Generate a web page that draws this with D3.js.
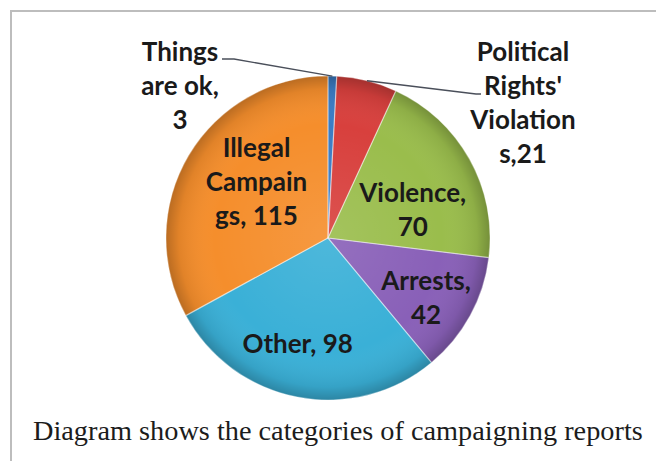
<!DOCTYPE html>
<html>
<head>
<meta charset="utf-8">
<script src="https://cdn.jsdelivr.net/npm/d3@7"></script>
<style>
  html, body { margin: 0; padding: 0; background: #fff; }
  svg { display: block; }
</style>
</head>
<body>
<svg id="chart" width="656" height="461"></svg>
<script>
// Campaigning report categories, clockwise from 12 o'clock
const categories = ["Things are ok", "Political Rights' Violations", "Violence", "Arrests", "Other", "Illegal Campaigns"];
const values = [3, 21, 70, 42, 98, 115];
// Label text as printed, split over lines
const labelLines = [
  ["Things", "are ok,", "3"],
  ["Political", "Rights'", "Violation", "s,21"],
  ["Violence,", "70"],
  ["Arrests,", "42"],
  ["Other, 98"],
  ["Illegal", "Campain", "gs, 115"]
];
const sliceColors = ["#3B7CC4", "#D8403D", "#9ABD4C", "#8960B8", "#3AB0D7", "#F58E2C"];
const caption = "Diagram shows the categories of campaigning reports";

const W = 656, H = 461;
const cx = 328, cy = 238, R = 162;
const svg = d3.select("#chart");

// frame lines (top and left)
svg.append("path")
  .attr("d", `M11,${H} V11 H${W}`)
  .attr("fill", "none").attr("stroke", "#bdbdbd").attr("stroke-width", 2);

const data = categories.map((c, i) => ({ name: c, value: values[i], lines: labelLines[i], color: sliceColors[i] }));
const pie = d3.pie().value(d => d.value).sort(null).startAngle(0).endAngle(2 * Math.PI);
const arcs = pie(data);
const arc = d3.arc().innerRadius(0).outerRadius(R);

const defs = svg.append("defs");
const shade = defs.append("radialGradient").attr("id", "shade")
  .attr("cx", 0).attr("cy", 0).attr("r", R).attr("gradientUnits", "userSpaceOnUse");
shade.append("stop").attr("offset", "0%").attr("stop-color", "#fff").attr("stop-opacity", 0.10);
shade.append("stop").attr("offset", "70%").attr("stop-color", "#fff").attr("stop-opacity", 0.0);
shade.append("stop").attr("offset", "92%").attr("stop-color", "#000").attr("stop-opacity", 0.08);
shade.append("stop").attr("offset", "100%").attr("stop-color", "#000").attr("stop-opacity", 0.24);

const g = svg.append("g").attr("transform", `translate(${cx},${cy})`);

g.selectAll("path.slice").data(arcs).join("path")
  .attr("class", "slice")
  .attr("d", arc)
  .attr("fill", d => d.data.color);

// soft bevel shading over the whole pie
g.selectAll("path.shade").data(arcs).join("path")
  .attr("class", "shade")
  .attr("d", arc)
  .attr("fill", "url(#shade)")
  .attr("stroke", "rgba(255,255,255,0.35)")
  .attr("stroke-width", 1.2);

// Label placement for slices: polar position of each label block (deg from 12 o'clock, fraction of radius)
const inside = {
  2: { ang: 72, rad: 0.55 },
  3: { ang: 121.5, rad: 0.71 },
  4: { ang: 196, rad: 0.68 },
  5: { ang: 308, rad: 0.56 }
};
const lineH = 34;
const fontFam = "Lato, 'Open Sans', sans-serif";

function drawBlock(x, yFirst, lines) {
  const t = svg.append("text")
    .attr("font-family", fontFam).attr("font-weight", 700)
    .attr("font-size", 26).attr("fill", "#1a1a1a")
    .attr("text-anchor", "middle");
  lines.forEach((s, i) => {
    t.append("tspan").attr("x", x).attr("y", yFirst + i * lineH).text(s);
  });
}

arcs.forEach((a, i) => {
  if (inside[i]) {
    const p = inside[i];
    const th = p.ang * Math.PI / 180;
    const x = cx + p.rad * R * Math.sin(th);
    const yMid = cy - p.rad * R * Math.cos(th);
    const n = a.data.lines.length;
    const yFirst = yMid + 9 - (n - 1) * lineH / 2;
    drawBlock(x, yFirst, a.data.lines);
  }
});

// outside labels with leader lines
const leader = d3.line();
function edgePoint(a) {
  const m = (a.startAngle + a.endAngle) / 2;
  return [cx + R * Math.sin(m), cy - R * Math.cos(m)];
}
// Things are ok
{
  const a = arcs[0];
  const e = edgePoint(a);
  svg.append("path")
    .attr("d", leader([[222, 59], [234, 59], e]))
    .attr("fill", "none").attr("stroke", "#4a4f5a").attr("stroke-width", 1.3);
  drawBlock(180, 61, a.data.lines);
}
// Political Rights' Violations
{
  const a = arcs[1];
  const e = edgePoint(a);
  svg.append("path")
    .attr("d", leader([e, [476, 94], [481, 94]]))
    .attr("fill", "none").attr("stroke", "#4a4f5a").attr("stroke-width", 1.3);
  drawBlock(523, 61, a.data.lines);
}

svg.append("text")
  .attr("x", 33).attr("y", 440)
  .attr("font-family", "'Liberation Serif', 'Times New Roman', serif")
  .attr("font-size", 28.3).attr("fill", "#1c1c1c")
  .text(caption);
</script>
</body>
</html>
